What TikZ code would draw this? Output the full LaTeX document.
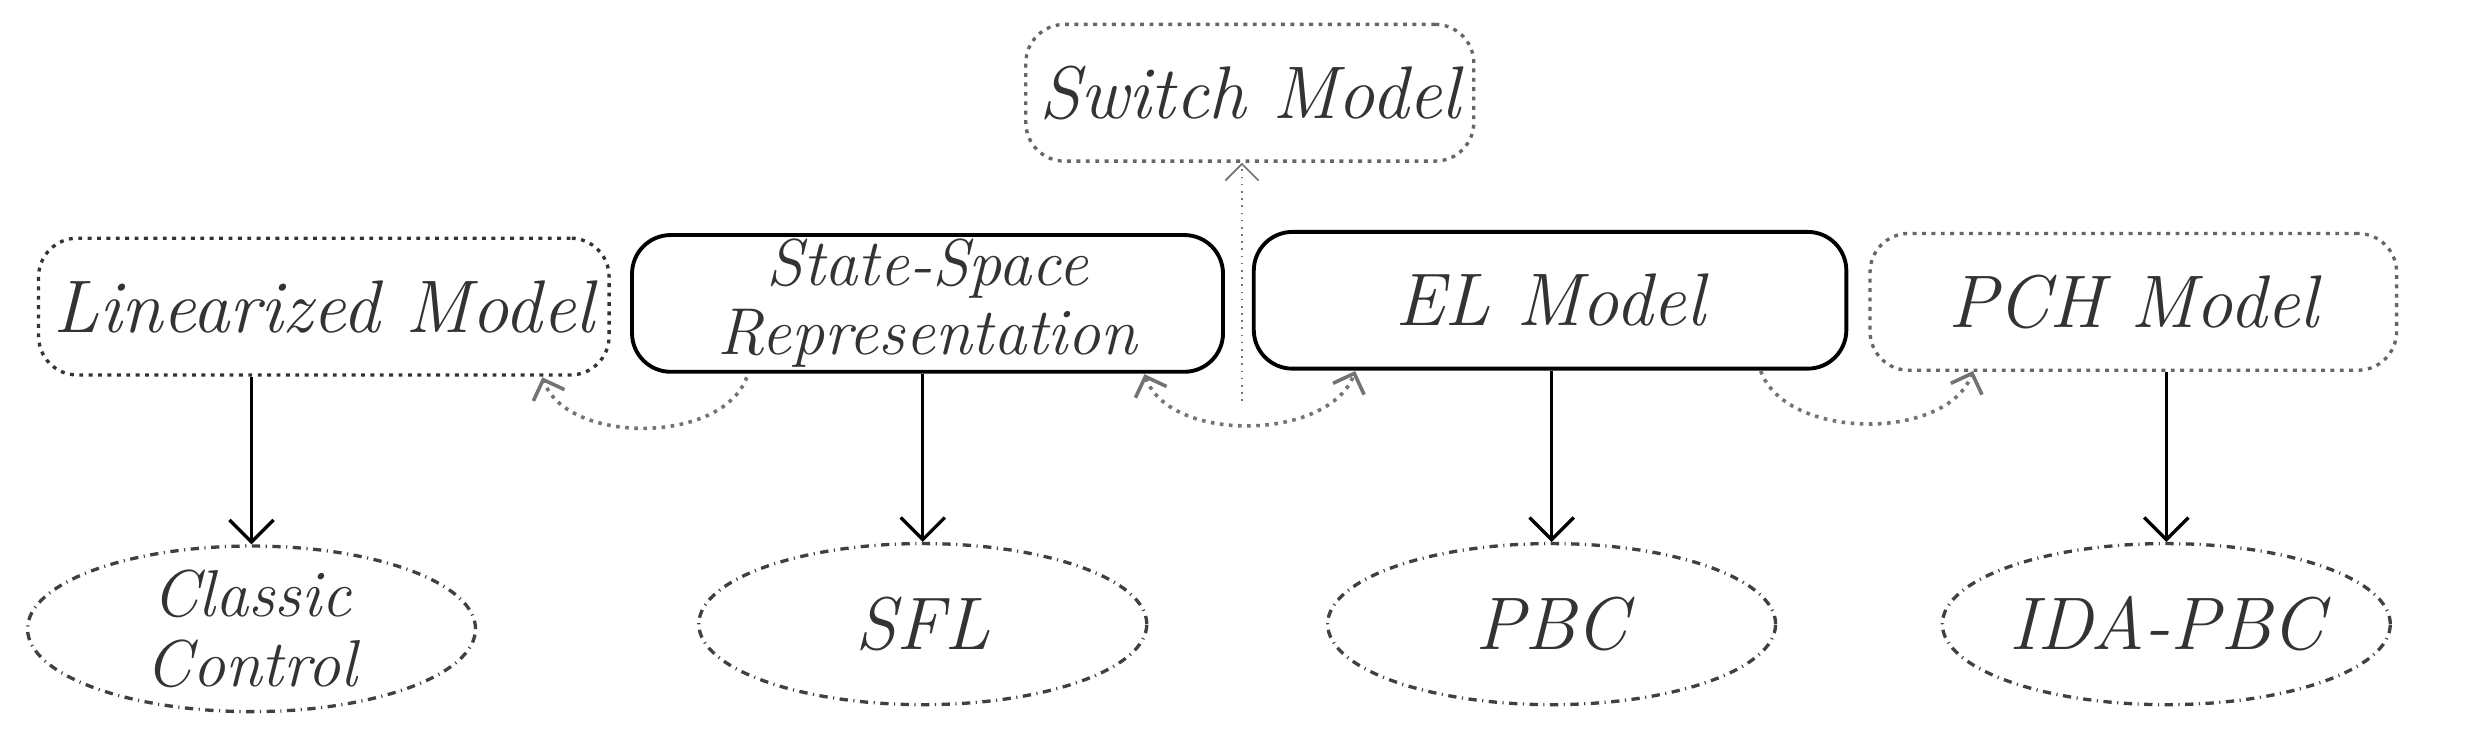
\documentclass[tikz,border=0pt]{standalone}
\usepackage{tikz}
\usetikzlibrary{arrows.meta,shapes.geometric}
\tikzset{
  txt/.style={font=\fontsize{27}{28}\selectfont\itshape, text=black!80},
  model/.style={txt, draw, rounded corners=14pt, line width=1.4pt, minimum height=1.74cm},
  dotmodel/.style={model, dotted, draw=black!60, line width=1.2pt},
  method/.style={txt, draw, ellipse, dash dot, line width=1.2pt, draw=black!75, minimum width=5.7cm, minimum height=2.05cm, inner sep=0pt, align=center},
  link/.style={-{Straight Barb[length=8pt]}, line width=1.2pt},
  rel/.style={dotted, line width=1.3pt, draw=black!55, -{Straight Barb[length=6pt]}}
}
\begin{document}
\begin{tikzpicture}[x=0.02cm, y=-0.02cm]
  \useasboundingbox (0,0) rectangle (1568,464);
  % Models
  \node[dotmodel, minimum width=5.7cm] (sw) at (795,59) {Switch Model};
  \node[dotmodel, minimum width=7.26cm, draw=black!80] (lin) at (206,195) {Linearized Model};
  \node[model, minimum width=7.52cm, align=center, inner sep=0pt, font=\fontsize{24}{25}\selectfont\itshape] (ss) at (590,193) {State-Space\\Representation};
  \node[model, minimum width=7.54cm] (el) at (986,191) {EL Model};
  \node[dotmodel, minimum width=6.7cm] (pch) at (1357,192) {PCH Model};
  % Control methods
  \node[method, font=\fontsize{24}{25}\selectfont\itshape] (cc) at (160,400) {Classic\\Control};
  \node[method] (sfl) at (587,397) {SFL};
  \node[method] (pbc) at (987,397) {PBC};
  \node[method] (ida) at (1378,397) {IDA-PBC};
  % Arrows to methods
  \draw[link] (lin.south -| cc) -- (cc.north);
  \draw[link] (ss.south -| sfl) -- (sfl.north);
  \draw[link] (el.south -| pbc) -- (pbc.north);
  \draw[link] (pch.south -| ida) -- (ida.north);
  % Relations between models
  \coordinate (a1) at (475,240);
  \coordinate (b1) at (345,240);
  \draw[rel] (a1) to[out=-110, in=-70, looseness=0.9] (b1);
  \coordinate (a2) at (728,238);
  \coordinate (b2) at (862,236);
  \draw[rel, {Straight Barb[length=6pt]}-{Straight Barb[length=6pt]}] (a2) to[out=-70, in=-110, looseness=0.9] (b2);
  \coordinate (a3) at (1120,236);
  \coordinate (b3) at (1255,236);
  \draw[rel] (a3) to[out=-70, in=-110, looseness=0.9] (b3);
  \coordinate (m) at (790,255);
  \draw[rel, line width=0.6pt] (m) -- (m |- sw.south);
\end{tikzpicture}
\end{document}
